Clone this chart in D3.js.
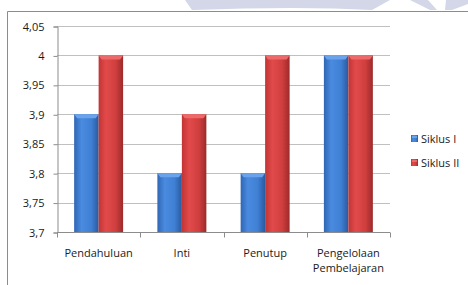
<!DOCTYPE html>
<html>
<head>
<meta charset="utf-8">
<script src="https://cdn.jsdelivr.net/npm/d3@7"></script>
<style>
  body { margin: 0; background: #fff; }
  svg { display: block; font-family: "Open Sans", "Noto Sans", sans-serif; }
</style>
</head>
<body>
<div id="grafico"></div>
<script>
const categories = ["Pendahuluan", "Inti", "Penutup", "Pengelolaan Pembelajaran"];
const siklus1 = [3.9, 3.8, 3.8, 4];
const siklus2 = [4, 3.9, 4, 4];
const seriesNames = ["Siklus I", "Siklus II"];
const yTicks = [3.7, 3.75, 3.8, 3.85, 3.9, 3.95, 4, 4.05];

const width = 468;
const height = 285;
const plot = { left: 57, right: 390, top: 26, bottom: 232 };

const svg = d3.select("#grafico")
              .append("svg")
              .attr("width", width)
              .attr("height", height);

const defs = svg.append("defs");

// horizontal shading for the "3D" bars
const gradients = [
    { id: "gBlue", stops: ["#2f66b4", "#4a8be0", "#3f7fd4", "#2a5a9e"] },
    { id: "gRed", stops: ["#c23434", "#e24a4a", "#d03e3e", "#9c2a2a"] }
];
gradients.forEach(g => {
    const lg = defs.append("linearGradient")
                   .attr("id", g.id)
                   .attr("x1", 0).attr("x2", 1).attr("y1", 0).attr("y2", 0);
    [0, 0.3, 0.7, 1].forEach((o, i) => {
        lg.append("stop").attr("offset", o).attr("stop-color", g.stops[i]);
    });
});

// faint watermark shapes behind the chart
const wm = svg.append("g").attr("fill", "#d3d7e8");
wm.append("path").attr("d", "M185,0 L390,0 L372,10 Q300,6 192,10 Z");
wm.append("path").attr("d", "M410,0 L428,0 L437,10 L430,10 Z");
wm.append("path").attr("d", "M446,0 L468,0 L468,4 L452,10 L445,10 Z");

// chart area border (cut off at right and bottom)
svg.append("path")
   .attr("d", "M7.5,285 L7.5,11.5 L468,11.5")
   .attr("fill", "none")
   .attr("stroke", "#8c8c8c");

const yScale = d3.scaleLinear()
                 .domain([3.7, 4.05])
                 .range([plot.bottom, plot.top]);

const xScale = d3.scaleBand()
                 .domain(categories)
                 .range([plot.left, plot.right])
                 .paddingInner(0)
                 .paddingOuter(0);

const xSub = d3.scaleBand()
               .domain(seriesNames)
               .range([0, xScale.bandwidth()])
               .paddingOuter(0.7)
               .paddingInner(0);

// gridlines
svg.append("g")
   .selectAll("line")
   .data(yTicks.slice(1))
   .join("line")
   .attr("x1", plot.left)
   .attr("x2", plot.right)
   .attr("y1", d => Math.round(yScale(d)) + 0.5)
   .attr("y2", d => Math.round(yScale(d)) + 0.5)
   .attr("stroke", "#c0c0c0");

// y axis
const yAxisCall = d3.axisLeft(yScale)
                    .tickValues(yTicks)
                    .tickSize(4)
                    .tickPadding(9)
                    .tickFormat(d => String(d).replace(".", ","));

const yAxis = svg.append("g")
                 .attr("transform", `translate(${plot.left + 0.5}, 0.5)`)
                 .call(yAxisCall);
yAxis.select(".domain").attr("stroke", "#8c8c8c");
yAxis.selectAll(".tick line").attr("stroke", "#8c8c8c");
yAxis.selectAll(".tick text")
     .attr("font-size", "11px")
     .attr("fill", "#1a1a1a")
     .attr("font-family", "\"Open Sans\", sans-serif");

// bars
const series = [
    { name: seriesNames[0], values: siklus1, fill: "url(#gBlue)", top: "#6aa3ec" },
    { name: seriesNames[1], values: siklus2, fill: "url(#gRed)", top: "#ee6a6a" }
];

series.forEach(s => {
    const g = svg.append("g");
    const bw = xSub.bandwidth();
    categories.forEach((c, i) => {
        const x = xScale(c) + xSub(s.name);
        const y = yScale(s.values[i]);
        g.append("rect")
         .attr("x", x)
         .attr("y", y)
         .attr("width", bw)
         .attr("height", yScale(3.7) - y)
         .attr("fill", s.fill);
        // bevel on top
        g.append("path")
         .attr("d", `M${x},${y} L${x + bw},${y} L${x + bw - 3},${y + 4} L${x + 3},${y + 4} Z`)
         .attr("fill", s.top);
    });
});

// x axis
const xAxis = svg.append("g")
                 .attr("transform", `translate(0, ${plot.bottom + 0.5})`);
xAxis.append("line")
     .attr("x1", plot.left).attr("x2", plot.right)
     .attr("stroke", "#8c8c8c");
const boundaries = [plot.left].concat(categories.map(c => xScale(c) + xScale.bandwidth()));
xAxis.selectAll("line.tk")
     .data(boundaries)
     .join("line")
     .attr("class", "tk")
     .attr("x1", d => Math.round(d) + 0.5)
     .attr("x2", d => Math.round(d) + 0.5)
     .attr("y1", 0)
     .attr("y2", 5)
     .attr("stroke", "#8c8c8c");

const xLabels = svg.append("g")
                   .attr("font-size", "11px")
                   .attr("fill", "#1a1a1a")
                   .attr("text-anchor", "middle");
categories.forEach(c => {
    const words = c.split(" ");
    const t = xLabels.append("text")
                     .attr("x", xScale(c) + xScale.bandwidth() / 2)
                     .attr("y", 257);
    words.forEach((w, i) => {
        t.append("tspan")
         .attr("x", xScale(c) + xScale.bandwidth() / 2)
         .attr("dy", i === 0 ? 0 : 15)
         .text(w);
    });
});

// legend
const legend = svg.append("g")
                  .attr("transform", "translate(411, 135)");
series.forEach((s, i) => {
    const row = legend.append("g")
                      .attr("transform", `translate(0, ${i * 24})`);
    row.append("rect")
       .attr("width", 7).attr("height", 7)
       .attr("fill", s.fill);
    row.append("rect")
       .attr("x", 1).attr("y", 1)
       .attr("width", 5).attr("height", 2)
       .attr("fill", s.top);
    row.append("text")
       .attr("x", 10)
       .attr("y", 8)
       .attr("font-size", "11px")
       .attr("fill", "#1a1a1a")
       .text(s.name);
});
</script>
</body>
</html>
